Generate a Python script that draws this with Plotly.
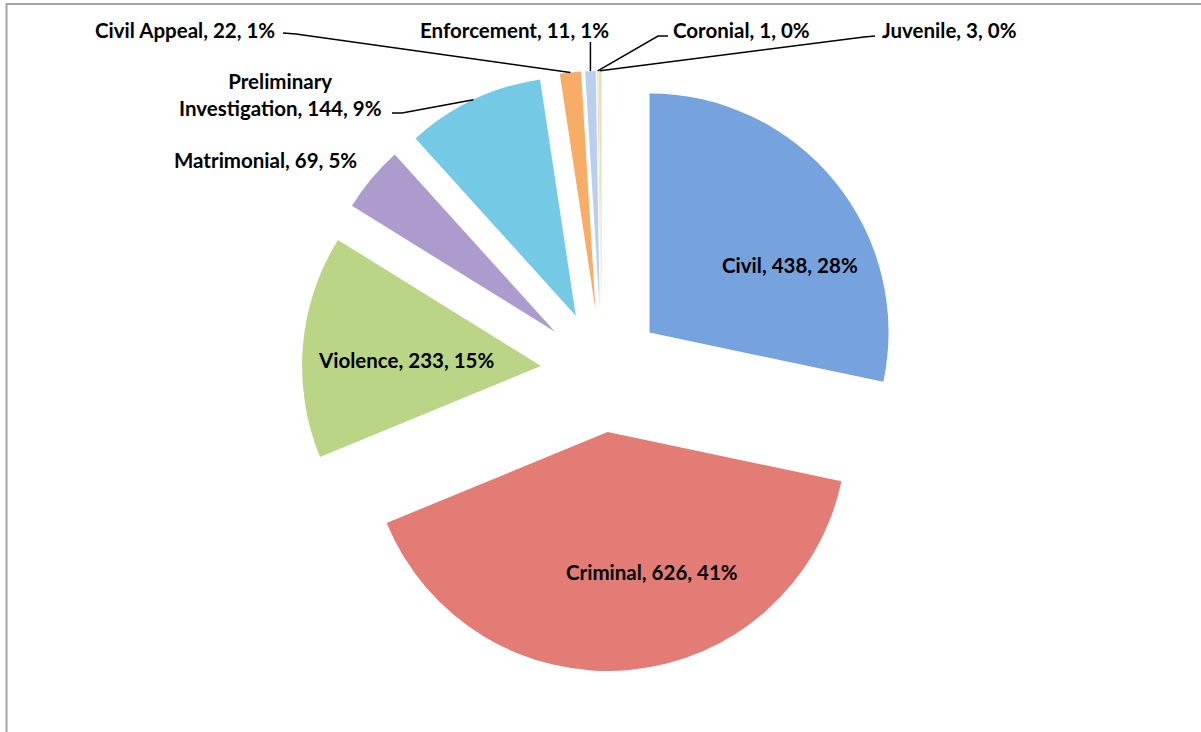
import math
import plotly.graph_objects as go

# Case counts by type
categories = ["Civil", "Criminal", "Violence", "Matrimonial",
              "Preliminary Investigation", "Civil Appeal", "Enforcement",
              "Coronial", "Juvenile"]
cases = [438, 626, 233, 69, 144, 22, 11, 1, 3]
pct_labels = ["28%", "41%", "15%", "5%", "9%", "1%", "1%", "0%", "0%"]

colors = ["#76a2dd", "#e27c74", "#bad585", "#ae9bcd", "#74c9e5",
          "#f8ad66", "#b9cfef", "#f2c1bf", "#d9eab6"]

W, H = 1201, 732
CX, CY = 602, 371      # pie centre in pixels
R = 239                # slice radius in pixels
PULL = 0.256           # explosion as a fraction of the radius

half = R * (1 + PULL)
domain_x = [(CX - half) / W, (CX + half) / W]
domain_y = [1 - (CY + half) / H, 1 - (CY - half) / H]

FONT = "Lato"
FSIZE = 20.5

fig = go.Figure()
fig.add_trace(go.Pie(
    labels=categories, values=cases, textinfo="none",
    sort=False, direction="clockwise", rotation=0, pull=PULL,
    marker=dict(colors=colors, line=dict(width=0)),
    domain=dict(x=domain_x, y=domain_y), showlegend=False,
    hoverinfo="label+value+percent",
))


def px(x, y):
    return x / W, 1 - y / H


def slice_tip(i):
    """Outer mid-point of exploded slice i, in pixels."""
    total = sum(cases)
    start = sum(cases[:i]) / total
    mid = start + cases[i] / total / 2
    th = 2 * math.pi * mid
    d = R * (1 + PULL)
    return CX + d * math.sin(th), CY - d * math.cos(th)


# Data labels: index -> (x, y, xanchor, leader path points before the tip)
label_spots = {
    0: (790, 265, "center", None),
    1: (652, 572, "center", None),
    2: (406, 360, "center", None),
    3: (265, 160, "center", None),
    4: (280, 94, "center", [(392, 113), (402, 113)]),
    5: (277, 30, "right", [(283, 33), (296, 34)]),
    6: (514, 30, "center", "vertical"),
    7: (671, 30, "left", [(668, 36), (658, 36)]),
    8: (880, 30, "left", [(875, 36), (864, 37)]),
}

annotations = []
shapes = []
for i, (x, y, anchor, lead) in label_spots.items():
    label = categories[i]
    if i == 4:
        label = "Preliminary<br>Investigation"
    ax_, ay_ = px(x, y)
    annotations.append(dict(
        x=ax_, y=ay_, xref="paper", yref="paper", xanchor=anchor, yanchor="middle",
        text=f"<b>{label}, {cases[i]}, {pct_labels[i]}</b>", showarrow=False,
        align="center", font=dict(family=FONT, size=FSIZE, color="black"),
    ))
    if lead is None:
        continue
    tx, ty = slice_tip(i)
    if lead == "vertical":
        pts = [(tx, 42)]
    else:
        pts = list(lead)
    pts.append((tx, ty))
    path = "M " + " L ".join(f"{px(a, b)[0]},{px(a, b)[1]}" for a, b in pts)
    shapes.append(dict(type="path", xref="paper", yref="paper", path=path,
                       line=dict(color="black", width=1.5)))

# chart frame
shapes.append(dict(type="rect", xref="paper", yref="paper",
                   x0=6.5 / W, x1=1.02, y0=-0.02, y1=1 - 4 / H,
                   line=dict(color="#a3a3a3", width=2), fillcolor="rgba(0,0,0,0)"))

fig.update_layout(
    width=W, height=H, margin=dict(l=0, r=0, t=0, b=0),
    paper_bgcolor="white", plot_bgcolor="white",
    annotations=annotations, shapes=shapes,
)

fig.write_html("out.html")
